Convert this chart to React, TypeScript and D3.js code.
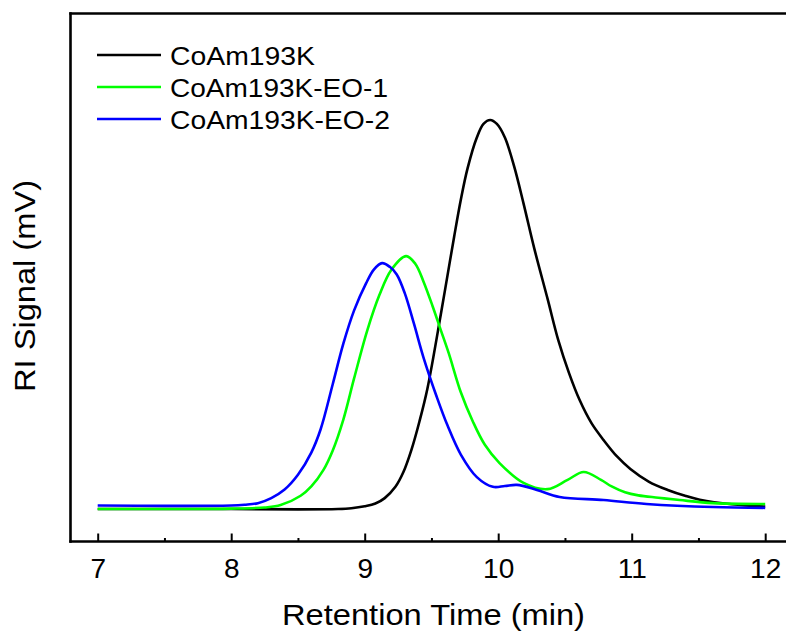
import React, { useEffect, useRef } from "react";
import * as d3 from "d3";

// ---- data (retention time in min, RI signal in arbitrary mV units) ----
const blackTime = [7.0, 7.5, 8.0, 8.5, 8.8, 8.9, 9.0, 9.08, 9.15, 9.23, 9.29, 9.35, 9.41, 9.47, 9.57, 9.62, 9.67, 9.72, 9.77, 9.84, 9.89, 9.94, 9.99, 10.05, 10.12, 10.19, 10.27, 10.37, 10.45, 10.53, 10.61, 10.7, 10.79, 10.89, 10.99, 11.13, 11.27, 11.4, 11.51, 11.75, 12.0];
const blackSignal = [0, 0, 0, -0.1, 0, 0.2, 0.7, 1.4, 2.8, 5.7, 9.5, 15.2, 22.5, 31, 50, 60, 70, 79.5, 87.5, 95.5, 99, 100, 99, 95.5, 88, 78.5, 67, 54, 43.4, 35, 28, 22, 17.7, 13.5, 10.3, 7, 4.9, 3.4, 2.4, 1.2, 0.6];

const greenTime = [7.0, 7.5, 8.0, 8.25, 8.37, 8.52, 8.6, 8.69, 8.76, 8.84, 8.92, 9.02, 9.11, 9.2, 9.31, 9.38, 9.44, 9.51, 9.57, 9.63, 9.72, 9.81, 9.9, 10.01, 10.19, 10.37, 10.52, 10.64, 10.77, 10.85, 10.95, 11.05, 11.2, 11.36, 11.61, 12.0];
const greenSignal = [0, 0, 0.1, 0.4, 1.0, 3.4, 5.8, 10, 15, 23, 33.5, 46, 55, 61.5, 65, 63, 58.5, 52, 46, 40, 30, 22.5, 16.5, 11.8, 6.7, 5.1, 7.5, 9.5, 7.5, 5.8, 4.3, 3.5, 2.9, 2.3, 1.5, 1.3];

const blueTime = [7.0, 7.5, 8.0, 8.1, 8.2, 8.3, 8.4, 8.5, 8.6, 8.67, 8.76, 8.84, 8.92, 9.01, 9.07, 9.13, 9.19, 9.24, 9.3, 9.37, 9.44, 9.54, 9.62, 9.72, 9.84, 9.96, 10.05, 10.14, 10.29, 10.46, 10.79, 11.11, 11.61, 12.0];
const blueSignal = [0.9, 0.8, 0.9, 1.1, 1.5, 2.8, 5.0, 8.8, 14.5, 20.5, 32, 42.5, 51, 58, 61.6, 63.2, 62.2, 60.3, 55.5, 47.5, 39, 28.8, 21.5, 14, 8.2, 5.7, 5.9, 6.2, 4.9, 3.1, 2.3, 1.3, 0.5, 0.3];

const seriesNames = ["CoAm193K", "CoAm193K-EO-1", "CoAm193K-EO-2"];
const seriesColors = ["#000000", "#00ff00", "#0000ff"];
const legendWidths = [145, 218, 220];

const majorTicks = [7, 8, 9, 10, 11, 12];
const minorTicks = [7.5, 8.5, 9.5, 10.5, 11.5];

const xTitle = "Retention Time (min)";
const yTitle = "RI Signal (mV)";

const W = 786;
const H = 633;
const FONT = "Arial, 'Liberation Sans', sans-serif";

export default function App() {
  const axisRef = useRef<SVGGElement>(null);
  const minorRef = useRef<SVGGElement>(null);

  const x = d3.scaleLinear().domain([7, 12]).range([97.7, 765.2]);
  const y = d3.scaleLinear().domain([0, 100]).range([509, 120]);

  const axisY = 541.5;
  const left = 70.5;
  const top = 13.5;

  useEffect(() => {
    if (axisRef.current) {
      const g = d3.select(axisRef.current);
      g.call(
        d3
          .axisBottom(x)
          .tickValues(majorTicks)
          .tickFormat(d3.format("d"))
          .tickSizeInner(-8)
          .tickSizeOuter(0)
          .tickPadding(17)
      );
      g.select(".domain").remove();
      g.selectAll(".tick line").attr("stroke", "#000").attr("stroke-width", 2);
      g.selectAll(".tick text")
        .attr("fill", "#000")
        .style("font-family", FONT)
        .style("font-size", "28px");
    }
    if (minorRef.current) {
      const g = d3.select(minorRef.current);
      g.call(
        d3
          .axisBottom(x)
          .tickValues(minorTicks)
          .tickFormat(() => "")
          .tickSizeInner(-3.5)
          .tickSizeOuter(0)
      );
      g.select(".domain").remove();
      g.selectAll(".tick line").attr("stroke", "#000").attr("stroke-width", 2);
    }
  }, []);

  const line = d3
    .line<[number, number]>()
    .x((d) => x(d[0]))
    .y((d) => y(d[1]))
    .curve(d3.curveCatmullRom.alpha(0.5));

  const series: [number, number][][] = [
    blackTime.map((t, i) => [t, blackSignal[i]] as [number, number]),
    greenTime.map((t, i) => [t, greenSignal[i]] as [number, number]),
    blueTime.map((t, i) => [t, blueSignal[i]] as [number, number]),
  ];

  return (
    <svg
      width={W}
      height={H}
      style={{ position: "absolute", left: 0, top: 0, background: "#fff" }}
    >
      <rect x={0} y={0} width={W} height={H} fill="#fff" />
      {series.map((s, i) => (
        <path
          key={seriesNames[i]}
          d={line(s) || ""}
          fill="none"
          stroke={seriesColors[i]}
          strokeWidth={2.6}
          strokeLinejoin="round"
        />
      ))}
      {/* frame */}
      <line x1={left} y1={top - 1.2} x2={left} y2={axisY + 1.2} stroke="#000" strokeWidth={2.6} />
      <line x1={left - 1.2} y1={top} x2={W} y2={top} stroke="#000" strokeWidth={2.6} />
      <line x1={left - 1.2} y1={axisY} x2={W} y2={axisY} stroke="#000" strokeWidth={2.6} />
      <g ref={axisRef} transform={`translate(0,${axisY})`} />
      <g ref={minorRef} transform={`translate(0,${axisY})`} />
      {/* axis titles */}
      <text
        x={433.5}
        y={625}
        textAnchor="middle"
        fontFamily={FONT}
        fontSize={29}
        textLength={303}
        lengthAdjust="spacingAndGlyphs"
        fill="#000"
      >
        {xTitle}
      </text>
      <text
        transform={`translate(35,286) rotate(-90)`}
        textAnchor="middle"
        fontFamily={FONT}
        fontSize={30}
        textLength={212}
        lengthAdjust="spacingAndGlyphs"
        fill="#000"
      >
        {yTitle}
      </text>
      {/* legend */}
      {seriesNames.map((name, i) => {
        const ly = 55 + i * 32;
        return (
          <g key={name}>
            <line x1={97} x2={161} y1={ly} y2={ly} stroke={seriesColors[i]} strokeWidth={2.6} />
            <text
              x={170}
              y={ly + 10}
              fontFamily={FONT}
              fontSize={25.5}
              textLength={legendWidths[i]}
              lengthAdjust="spacingAndGlyphs"
              fill="#000"
            >
              {name}
            </text>
          </g>
        );
      })}
    </svg>
  );
}
